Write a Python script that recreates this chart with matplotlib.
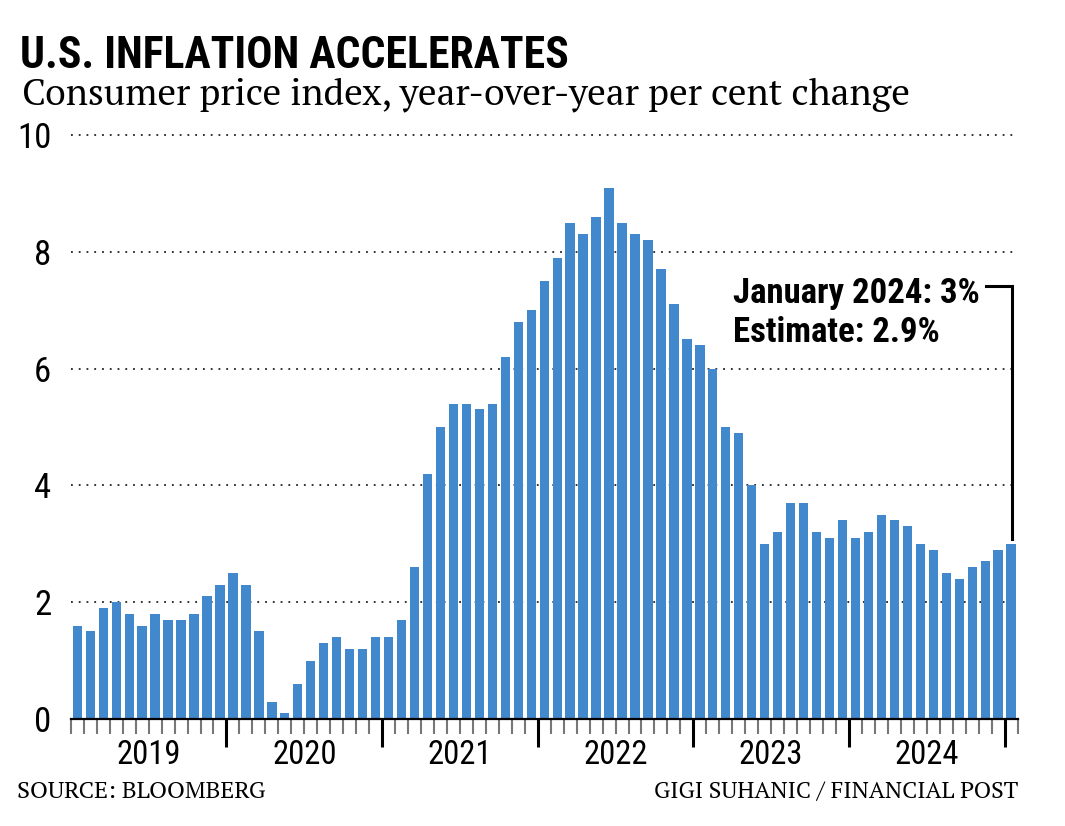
import matplotlib
matplotlib.use("Agg")
import matplotlib.pyplot as plt
from matplotlib import font_manager
import numpy as np

# --- donnees : IPC americain, variation annuelle en %, mensuel
cpi = [1.6, 1.5, 1.9, 2.0, 1.8, 1.6, 1.8, 1.7, 1.7, 1.8, 2.1, 2.3,
       2.5, 2.3, 1.5, 0.3, 0.1, 0.6, 1.0, 1.3, 1.4, 1.2, 1.2, 1.4,
       1.4, 1.7, 2.6, 4.2, 5.0, 5.4, 5.4, 5.3, 5.4, 6.2, 6.8, 7.0,
       7.5, 7.9, 8.5, 8.3, 8.6, 9.1, 8.5, 8.3, 8.2, 7.7, 7.1, 6.5,
       6.4, 6.0, 5.0, 4.9, 4.0, 3.0, 3.2, 3.7, 3.7, 3.2, 3.1, 3.4,
       3.1, 3.2, 3.5, 3.4, 3.3, 3.0, 2.9, 2.5, 2.4, 2.6, 2.7, 2.9,
       3.0]
years = ["2019", "2020", "2021", "2022", "2023", "2024"]
yticks = [0, 2, 4, 6, 8, 10]


def pick(*cands):
    names = {f.name for f in font_manager.fontManager.ttflist}
    for c in cands:
        if c in names:
            return c
    return "DejaVu Sans"


sans = pick("Roboto Condensed", "PT Sans Narrow", "Archivo Narrow", "DejaVu Sans")
serif = pick("PT Serif", "Noto Serif", "Source Serif 4", "Liberation Serif", "DejaVu Serif")

bar_color = "#4288cc"

fig = plt.figure(figsize=(10.65, 8.26), dpi=100)
ax = fig.add_axes([0.0665, 0.1295, 0.889, 0.7212])
renderer = fig.canvas.get_renderer()


def fit(t, width_px):
    # ajuste la taille de police pour atteindre la largeur voulue
    w = t.get_window_extent(renderer).width
    t.set_fontsize(t.get_fontsize() * width_px / w)


x = np.arange(len(cpi))
ax.bar(x, cpi, width=0.72, color=bar_color, zorder=2)

ax.set_xlim(-0.5, len(cpi) - 0.5)
ax.set_ylim(0, 10.2)

# grille pointillee
for v in yticks[1:]:
    ax.axhline(v, color="#222222", lw=1.3, ls=(0, (1, 3.3)), zorder=1, clip_on=False)

ax.set_yticks(yticks)
ax.set_yticklabels([str(v) for v in yticks], fontsize=25, family=sans)
ax.tick_params(axis="y", length=0, pad=14)

# ticks x : mineurs a chaque mois, majeurs a chaque annee
bounds = np.arange(-0.5, len(cpi), 1.0)
major = [b for b in bounds if (b + 0.5) % 12 == 0 and 0 < b + 0.5 < len(cpi)]
minor = [b for b in bounds if b not in major]
ax.set_xticks(major)
ax.set_xticks(minor, minor=True)
ax.set_xticklabels([])
ax.tick_params(axis="x", which="major", length=20, width=2.2, color="black")
ax.tick_params(axis="x", which="minor", length=10.5, width=1.5, color="#777777")

for i, yr in enumerate(years):
    ax.text(i * 12 + 5.5, -0.034, yr, transform=ax.get_xaxis_transform(),
            ha="center", va="top", fontsize=23.5, family=sans)

for s in ["top", "right", "left"]:
    ax.spines[s].set_visible(False)
ax.spines["bottom"].set_linewidth(1.6)
ax.spines["bottom"].set_zorder(3)

# annotation
last = len(cpi) - 1
a1 = ax.text(50.55, 7.12, "January 2024: 3%", fontsize=23, fontweight="bold", family=sans)
fit(a1, 247)
ax.text(50.55, 6.46, "Estimate: 2.9%", fontsize=a1.get_fontsize(), fontweight="bold", family=sans)
ax.plot([70.07, last + 0.1, last + 0.1], [7.41, 7.41, cpi[last] + 0.08],
        color="black", lw=2.2, solid_joinstyle="miter", clip_on=False, zorder=4)

# titres
t = fig.text(0.019, 0.9177, "U.S. INFLATION ACCELERATES", fontsize=34,
             fontweight="bold", family=sans, va="baseline")
fit(t, 550)
t = fig.text(0.021, 0.874, "Consumer price index, year-over-year per cent change",
             fontsize=25, family=serif, va="baseline")
fit(t, 890)
t = fig.text(0.016, 0.034, "SOURCE: BLOOMBERG", fontsize=15, family=serif, va="baseline")
fit(t, 250)
t = fig.text(0.956, 0.034, "GIGI SUHANIC / FINANCIAL POST", fontsize=15, family=serif,
             va="baseline", ha="right")
fit(t, 365)

fig.savefig("out.png", dpi=100)
